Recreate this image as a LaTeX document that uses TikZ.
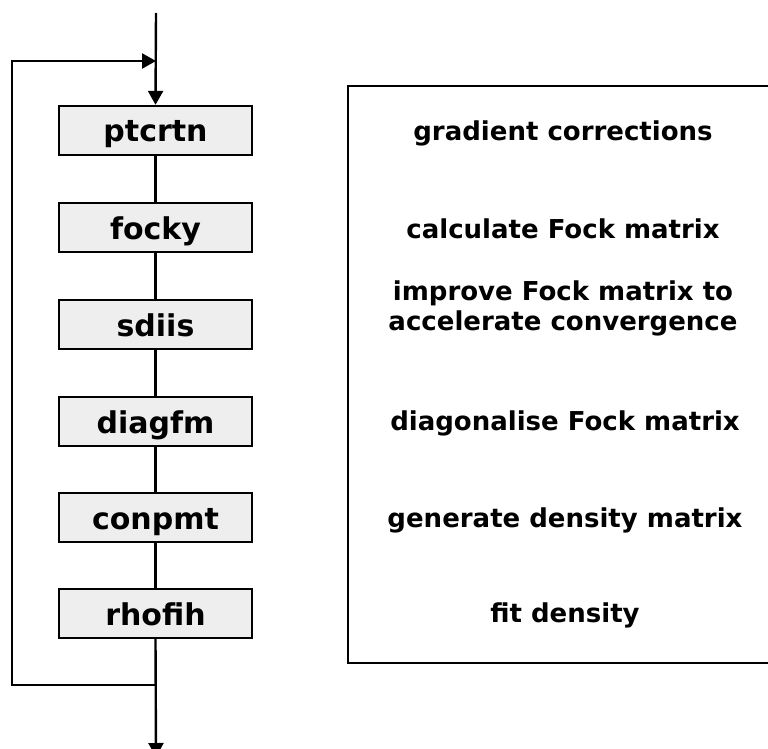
\documentclass[tikz,border=0pt]{standalone}
\usepackage{fontspec}
\setmainfont{DejaVu Sans}
\usetikzlibrary{arrows.meta}
\definecolor{boxfill}{HTML}{EEEEEE}
\begin{document}
\begin{tikzpicture}[x=1pt,y=-1pt,
  stepbox/.style={draw=black,line width=2.4pt,fill=boxfill,minimum width=193pt,minimum height=49pt,inner sep=0pt,text height=23pt,text depth=0pt,font=\bfseries\fontsize{30}{32}\selectfont},
  desc/.style={font=\bfseries\fontsize{26}{30}\selectfont,align=center,inner sep=0pt,anchor=base},
  conn/.style={line width=2.4pt},
  arr/.style={line width=2.4pt,-{Triangle[length=14pt,width=15pt]}}]
\useasboundingbox (0,0) rectangle (768,749);
\begin{scope}
\clip (0,0) rectangle (768,749);
\node[stepbox] (p) at (155.5,130.5) {ptcrtn};
\node[stepbox] (f) at (155.5,227.5) {focky};
\node[stepbox] (s) at (155.5,324.5) {sdiis};
\node[stepbox] (d) at (155.5,421.5) {diagfm};
\node[stepbox] (c) at (155.5,517.5) {conpmt};
\node[stepbox] (r) at (155.5,613.5) {rhofih};
\coordinate (top) at (156,13);
\coordinate (join) at (156,61);
\coordinate (fbtl) at (12,61);
\coordinate (fbbl) at (12,685);
\coordinate (split) at (156,685);
\coordinate (out) at (156,757);
\draw[arr] (top) -- (p.north);
\draw[conn] (p) -- (f);
\draw[conn] (f) -- (s);
\draw[conn] (s) -- (d);
\draw[conn] (d) -- (c);
\draw[conn] (c) -- (r);
\draw[arr] (r.south) -- (out);
\draw[arr,line join=miter] (split) -- (fbbl) -- (fbtl) -- (join);
\node[draw=black,line width=2.4pt,minimum width=440pt,minimum height=577pt,anchor=north west] (panel) at (347,85) {};
\node[desc] (t1) at (563,140) {gradient corrections};
\node[desc] (t2) at (563,238) {calculate Fock matrix};
\node[desc] (t3) at (563,330) {improve Fock matrix to\\accelerate convergence};
\node[desc] (t4) at (565,430) {diagonalise Fock matrix};
\node[desc] (t5) at (565,527) {generate density matrix};
\node[desc] (t6) at (565,622) {fit density};
\end{scope}
\end{tikzpicture}
\end{document}
